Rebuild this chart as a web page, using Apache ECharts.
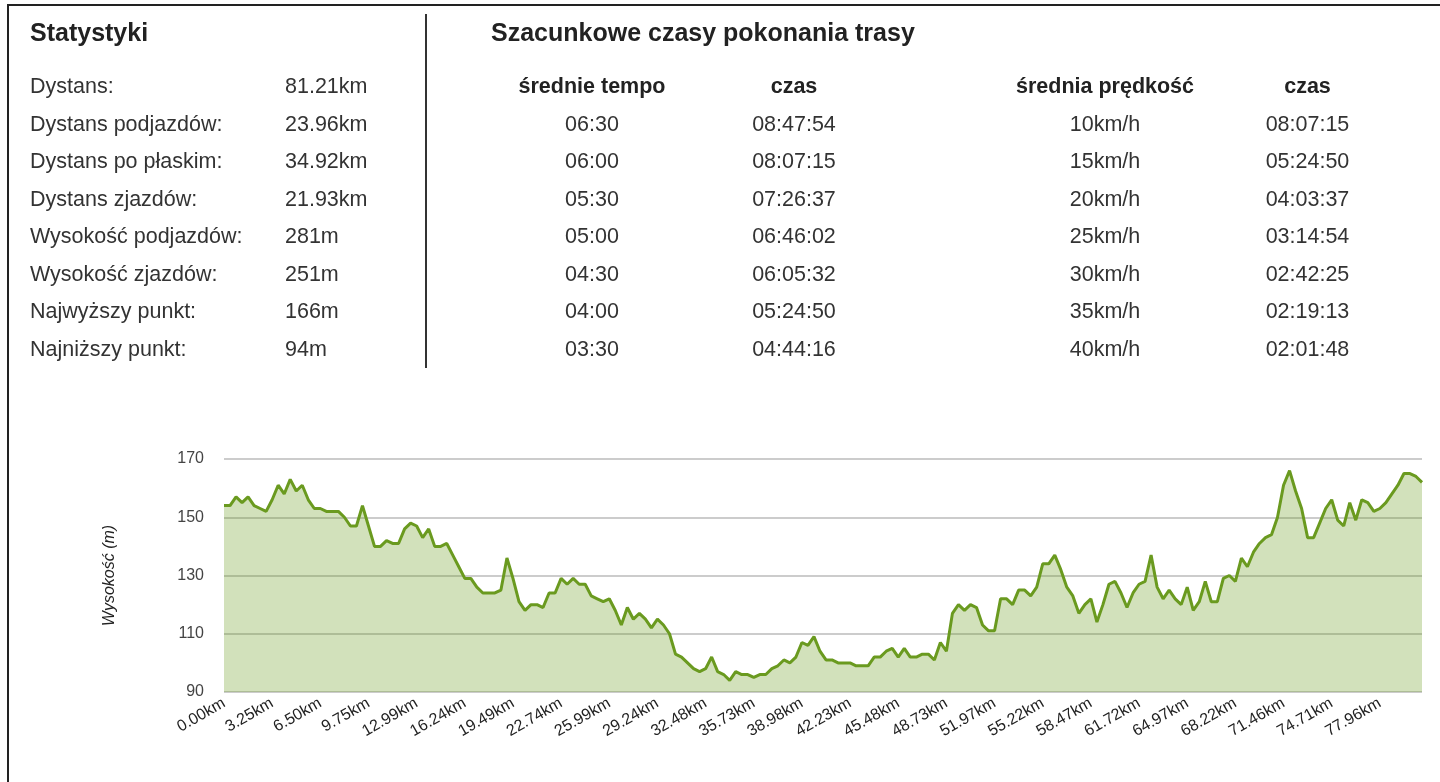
<!DOCTYPE html>
<html style="height: 100%">
<head>
    <meta charset="utf-8">
    <title>Statystyki trasy</title>
    <style>
        body { margin: 0; height: 100%; background: #fff; font-family: Arial, "Liberation Sans", sans-serif; color: #333; }
        #frameTop { position: absolute; left: 7px; top: 4px; width: 1433px; height: 2px; background: #222; }
        #frameLeft { position: absolute; left: 7px; top: 4px; width: 2px; height: 778px; background: #222; }
        #divider { position: absolute; left: 425px; top: 14px; width: 2px; height: 354px; background: #333; }
        .title { position: absolute; top: 17px; font-size: 25px; font-weight: bold; line-height: 30px; color: #222; }
        .row { position: absolute; height: 37.5px; line-height: 37.5px; font-size: 21.5px; white-space: nowrap; }
        .c { width: 240px; text-align: center; }
        .b { font-weight: bold; color: #222; }
        #container { position: absolute; left: 0; top: 0; width: 1440px; height: 782px; }
    </style>
</head>
<body>
<div id="container"></div>
<div id="frameTop"></div>
<div id="frameLeft"></div>
<div id="divider"></div>
<div class="title" style="left: 30px">Statystyki</div>
<div class="title" style="left: 491px">Szacunkowe czasy pokonania trasy</div>
<div id="texts"></div>
<script type="text/javascript" src="https://cdn.jsdelivr.net/npm/echarts@6/dist/echarts.min.js"></script>
<script type="text/javascript">
    // statystyki
    var statLabels = ['Dystans:', 'Dystans podjazdów:', 'Dystans po płaskim:', 'Dystans zjazdów:',
        'Wysokość podjazdów:', 'Wysokość zjazdów:', 'Najwyższy punkt:', 'Najniższy punkt:'];
    var statValues = ['81.21km', '23.96km', '34.92km', '21.93km', '281m', '251m', '166m', '94m'];

    // szacunkowe czasy
    var paceValues = ['06:30', '06:00', '05:30', '05:00', '04:30', '04:00', '03:30'];
    var paceTimes = ['08:47:54', '08:07:15', '07:26:37', '06:46:02', '06:05:32', '05:24:50', '04:44:16'];
    var speedValues = ['10km/h', '15km/h', '20km/h', '25km/h', '30km/h', '35km/h', '40km/h'];
    var speedTimes = ['08:07:15', '05:24:50', '04:03:37', '03:14:54', '02:42:25', '02:19:13', '02:01:48'];

    // profil wysokości (m), co 8 punkt opisany dystansem
    var elevation = [
        154, 154, 157, 155, 157, 154, 153, 152, 156, 161,
        158, 163, 159, 161, 156, 153, 153, 152, 152, 152,
        150, 147, 147, 154, 147, 140, 140, 142, 141, 141,
        146, 148, 147, 143, 146, 140, 140, 141, 137, 133,
        129, 129, 126, 124, 124, 124, 125, 136, 129, 121,
        118, 120, 120, 119, 124, 124, 129, 127, 129, 127,
        127, 123, 122, 121, 122, 118, 113, 119, 115, 117,
        115, 112, 115, 113, 110, 103, 102, 100, 98, 97,
        98, 102, 97, 96, 94, 97, 96, 96, 95, 96,
        96, 98, 99, 101, 100, 102, 107, 106, 109, 104,
        101, 101, 100, 100, 100, 99, 99, 99, 102, 102,
        104, 105, 102, 105, 102, 102, 103, 103, 101, 107,
        104, 117, 120, 118, 120, 119, 113, 111, 111, 122,
        122, 120, 125, 125, 123, 126, 134, 134, 137, 132,
        126, 123, 117, 120, 122, 114, 120, 127, 128, 124,
        119, 124, 127, 128, 137, 126, 122, 125, 122, 120,
        126, 118, 121, 128, 121, 121, 129, 130, 128, 136,
        133, 138, 141, 143, 144, 150, 161, 166, 159, 153,
        143, 143, 148, 153, 156, 149, 147, 155, 149, 156,
        155, 152, 153, 155, 158, 161, 165, 165, 164, 162
    ];
    var distanceTicks = ['0.00km', '3.25km', '6.50km', '9.75km', '12.99km', '16.24km', '19.49km',
        '22.74km', '25.99km', '29.24km', '32.48km', '35.73km', '38.98km', '42.23km', '45.48km',
        '48.73km', '51.97km', '55.22km', '58.47km', '61.72km', '64.97km', '68.22km', '71.46km',
        '74.71km', '77.96km'];
    var pointsPerTick = 8;

    // teksty tabel
    var html = '';
    var rowTop = 68, rowH = 37.5;
    for (var i = 0; i < statLabels.length; i++) {
        var t = rowTop + i * rowH;
        html += '<div class="row" style="left:30px;top:' + t + 'px">' + statLabels[i] + '</div>';
        html += '<div class="row" style="left:285px;top:' + t + 'px">' + statValues[i] + '</div>';
    }
    var cols = [592, 794, 1105, 1307.5];
    var heads = ['średnie tempo', 'czas', 'średnia prędkość', 'czas'];
    var colData = [paceValues, paceTimes, speedValues, speedTimes];
    for (var c = 0; c < cols.length; c++) {
        var l = cols[c] - 120;
        html += '<div class="row c b" style="left:' + l + 'px;top:' + rowTop + 'px">' + heads[c] + '</div>';
        for (var r = 0; r < colData[c].length; r++) {
            html += '<div class="row c" style="left:' + l + 'px;top:' + (rowTop + (r + 1) * rowH) + 'px">' + colData[c][r] + '</div>';
        }
    }
    document.getElementById('texts').innerHTML = html;

    var dom = document.getElementById('container');
    var myChart = echarts.init(dom);
    var option = {
        animation: false,
        textStyle: { fontFamily: 'Arial, "Liberation Sans", sans-serif' },
        grid: { left: 224, right: 18, top: 459, bottom: 90 },
        xAxis: {
            type: 'category',
            boundaryGap: false,
            data: elevation.map(function (v, idx) { return String(idx); }),
            axisLine: { show: false },
            axisTick: { show: false },
            splitLine: { show: false },
            axisLabel: {
                rotate: 30,
                margin: 10,
                fontSize: 16,
                color: '#222',
                interval: function (idx) { return idx % pointsPerTick === 0; },
                formatter: function (v, idx) {
                    return idx % pointsPerTick === 0 ? (distanceTicks[idx / pointsPerTick] || '') : '';
                }
            }
        },
        yAxis: {
            type: 'value',
            min: 90,
            max: 170,
            interval: 20,
            name: 'Wysokość (m)',
            nameLocation: 'middle',
            nameGap: 106,
            nameTextStyle: { fontSize: 16, fontStyle: 'italic', color: '#222' },
            axisLine: { show: false },
            axisTick: { show: false },
            axisLabel: { fontSize: 16, color: '#444', margin: 20 },
            splitLine: { lineStyle: { color: '#cccccc', width: 2 } }
        },
        series: [{
            name: 'Wysokość',
            type: 'line',
            data: elevation,
            symbol: 'none',
            lineStyle: { color: '#6a9a1f', width: 3 },
            itemStyle: { color: '#6a9a1f' },
            areaStyle: { color: '#6a9a1f', opacity: 0.3 }
        }]
    };
    if (option && typeof option === 'object') {
        myChart.setOption(option, true);
    }
</script>
</body>
</html>
